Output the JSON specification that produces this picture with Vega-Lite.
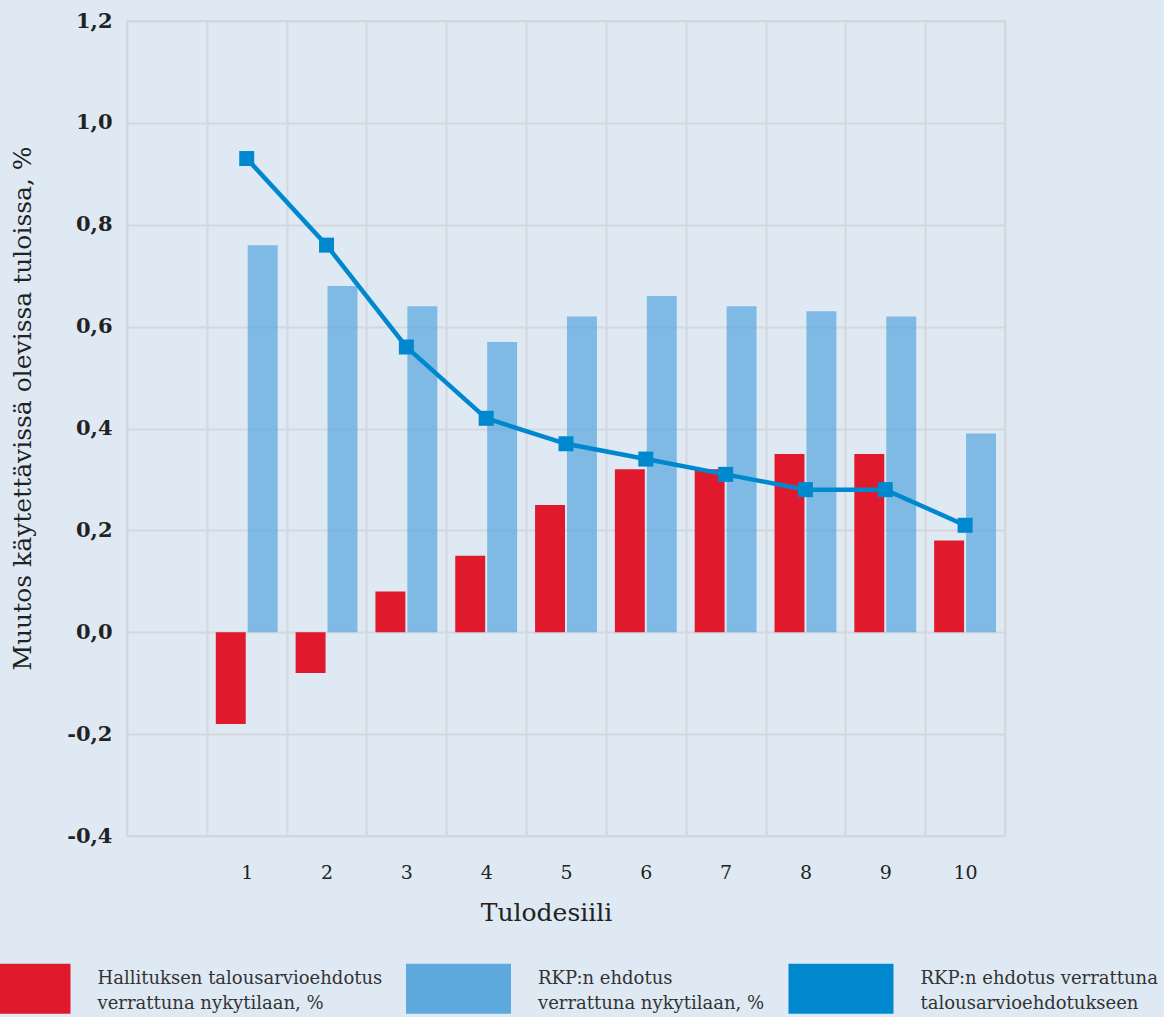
{
  "$schema": "https://vega.github.io/schema/vega-lite/v6.json",
  "width": 878,
  "height": 815,
  "autosize": {"type": "none"},
  "padding": {"left": 127, "top": 21, "right": 159, "bottom": 181},
  "background": "#dfe9f3",
  "config": {
    "view": {"stroke": "#d3d8dd", "strokeWidth": 2},
    "font": "DejaVu Serif"
  },
  "data": {
    "values": [
      {"d": 1, "s": "Hallituksen talousarvioehdotus verrattuna nykytilaan, %", "v": -0.18},
      {"d": 2, "s": "Hallituksen talousarvioehdotus verrattuna nykytilaan, %", "v": -0.08},
      {"d": 3, "s": "Hallituksen talousarvioehdotus verrattuna nykytilaan, %", "v": 0.08},
      {"d": 4, "s": "Hallituksen talousarvioehdotus verrattuna nykytilaan, %", "v": 0.15},
      {"d": 5, "s": "Hallituksen talousarvioehdotus verrattuna nykytilaan, %", "v": 0.25},
      {"d": 6, "s": "Hallituksen talousarvioehdotus verrattuna nykytilaan, %", "v": 0.32},
      {"d": 7, "s": "Hallituksen talousarvioehdotus verrattuna nykytilaan, %", "v": 0.32},
      {"d": 8, "s": "Hallituksen talousarvioehdotus verrattuna nykytilaan, %", "v": 0.35},
      {"d": 9, "s": "Hallituksen talousarvioehdotus verrattuna nykytilaan, %", "v": 0.35},
      {"d": 10, "s": "Hallituksen talousarvioehdotus verrattuna nykytilaan, %", "v": 0.18},
      {"d": 1, "s": "RKP:n ehdotus verrattuna nykytilaan, %", "v": 0.76},
      {"d": 2, "s": "RKP:n ehdotus verrattuna nykytilaan, %", "v": 0.68},
      {"d": 3, "s": "RKP:n ehdotus verrattuna nykytilaan, %", "v": 0.64},
      {"d": 4, "s": "RKP:n ehdotus verrattuna nykytilaan, %", "v": 0.57},
      {"d": 5, "s": "RKP:n ehdotus verrattuna nykytilaan, %", "v": 0.62},
      {"d": 6, "s": "RKP:n ehdotus verrattuna nykytilaan, %", "v": 0.66},
      {"d": 7, "s": "RKP:n ehdotus verrattuna nykytilaan, %", "v": 0.64},
      {"d": 8, "s": "RKP:n ehdotus verrattuna nykytilaan, %", "v": 0.63},
      {"d": 9, "s": "RKP:n ehdotus verrattuna nykytilaan, %", "v": 0.62},
      {"d": 10, "s": "RKP:n ehdotus verrattuna nykytilaan, %", "v": 0.39},
      {"d": 1, "s": "RKP:n ehdotus verrattuna talousarvioehdotukseen", "v": 0.93},
      {"d": 2, "s": "RKP:n ehdotus verrattuna talousarvioehdotukseen", "v": 0.76},
      {"d": 3, "s": "RKP:n ehdotus verrattuna talousarvioehdotukseen", "v": 0.56},
      {"d": 4, "s": "RKP:n ehdotus verrattuna talousarvioehdotukseen", "v": 0.42},
      {"d": 5, "s": "RKP:n ehdotus verrattuna talousarvioehdotukseen", "v": 0.37},
      {"d": 6, "s": "RKP:n ehdotus verrattuna talousarvioehdotukseen", "v": 0.34},
      {"d": 7, "s": "RKP:n ehdotus verrattuna talousarvioehdotukseen", "v": 0.31},
      {"d": 8, "s": "RKP:n ehdotus verrattuna talousarvioehdotukseen", "v": 0.28},
      {"d": 9, "s": "RKP:n ehdotus verrattuna talousarvioehdotukseen", "v": 0.28},
      {"d": 10, "s": "RKP:n ehdotus verrattuna talousarvioehdotukseen", "v": 0.21}
    ]
  },
  "encoding": {
    "x": {
      "field": "d",
      "type": "ordinal",
      "scale": {"domain": [0, 1, 2, 3, 4, 5, 6, 7, 8, 9, 10], "paddingInner": 0, "paddingOuter": 0},
      "axis": {
        "labelExpr": "datum.value == 0 ? '' : datum.label",
        "tickBand": "extent",
        "grid": true,
        "gridColor": "#d3d8dd",
        "gridWidth": 2,
        "ticks": false,
        "domain": false,
        "labelAngle": 0,
        "labelFont": "DejaVu Serif",
        "labelFontSize": 19,
        "labelColor": "#222222",
        "labelPadding": 27,
        "title": "Tulodesiili",
        "titleFont": "DejaVu Serif",
        "titleFontSize": 25,
        "titleFontWeight": "normal",
        "titleColor": "#222222",
        "titleX": 419,
        "titleY": 84,
        "titleBaseline": "alphabetic"
      }
    },
    "y": {
      "field": "v",
      "type": "quantitative",
      "scale": {"domain": [-0.4, 1.2], "nice": false, "zero": false},
      "axis": {
        "values": [-0.4, -0.2, 0, 0.2, 0.4, 0.6, 0.8, 1, 1.2],
        "labelExpr": "replace(replace(format(datum.value, '.1f'), '.', ','), '\u2212', '-')",
        "grid": true,
        "gridColor": "#d3d8dd",
        "gridWidth": 2,
        "ticks": false,
        "domain": false,
        "labelFont": "DejaVu Serif",
        "labelFontSize": 21,
        "labelFontWeight": "bold",
        "labelColor": "#222222",
        "labelPadding": 15,
        "title": "Muutos käytettävissä olevissa tuloissa, %",
        "titleFont": "DejaVu Serif",
        "titleFontSize": 25,
        "titleFontWeight": "normal",
        "titleColor": "#222222",
        "titleX": -105,
        "titleY": 387,
        "titleBaseline": "middle"
      }
    }
  },
  "layer": [
    {
      "transform": [{"filter": "datum.s != 'RKP:n ehdotus verrattuna talousarvioehdotukseen'"}],
      "mark": {"type": "bar"},
      "encoding": {
        "xOffset": {
          "field": "s",
          "type": "nominal",
          "scale": {
            "domain": ["Hallituksen talousarvioehdotus verrattuna nykytilaan, %", "RKP:n ehdotus verrattuna nykytilaan, %"],
            "paddingInner": 0.0625,
            "paddingOuter": 0.28125
          }
        },
        "fillOpacity": {
          "condition": {"test": "datum.s == 'RKP:n ehdotus verrattuna nykytilaan, %'", "value": 0.75},
          "value": 1
        },
        "color": {
          "field": "s",
          "type": "nominal",
          "scale": {
            "domain": ["Hallituksen talousarvioehdotus verrattuna nykytilaan, %", "RKP:n ehdotus verrattuna nykytilaan, %", "RKP:n ehdotus verrattuna talousarvioehdotukseen"],
            "range": ["#e01a2c", "#5eaadf", "#0088cf"]
          },
          "legend": {
            "orient": "none",
            "legendX": -161.5,
            "legendY": 915,
            "direction": "horizontal",
            "columns": 3,
            "title": null,
            "padding": 0,
            "symbolType": "M-1,-0.476H1V0.476H-1Z",
            "symbolSize": 11025,
            "symbolStrokeWidth": 0,
            "symbolOpacity": 1,
            "labelFont": "DejaVu Serif",
            "labelFontSize": 18,
            "labelColor": "#333333",
            "labelOffset": 27,
            "labelLimit": 500,
            "columnPadding": 23.5,
            "labelExpr": "datum.label == 'Hallituksen talousarvioehdotus verrattuna nykytilaan, %' ? ['Hallituksen talousarvioehdotus', 'verrattuna nykytilaan, %'] : datum.label == 'RKP:n ehdotus verrattuna nykytilaan, %' ? ['RKP:n ehdotus', 'verrattuna nykytilaan, %'] : ['RKP:n ehdotus verrattuna', 'talousarvioehdotukseen']",
            "encode": {"labels": {"update": {"lineHeight": {"value": 25}, "dy": {"value": -10}}}}
          }
        }
      }
    },
    {
      "transform": [{"filter": "datum.s == 'RKP:n ehdotus verrattuna talousarvioehdotukseen'"}],
      "mark": {"type": "line", "color": "#0088cf", "strokeWidth": 4.5},
      "encoding": {}
    },
    {
      "transform": [{"filter": "datum.s == 'RKP:n ehdotus verrattuna talousarvioehdotukseen'"}],
      "mark": {"type": "point", "shape": "square", "filled": true, "size": 225, "opacity": 1},
      "encoding": {
        "color": {
          "field": "s",
          "type": "nominal",
          "legend": {
            "orient": "none",
            "legendX": -161.5,
            "legendY": 915,
            "direction": "horizontal",
            "columns": 3,
            "title": null,
            "padding": 0,
            "symbolType": "M-1,-0.476H1V0.476H-1Z",
            "symbolSize": 11025,
            "symbolStrokeWidth": 0,
            "symbolOpacity": 1,
            "labelFont": "DejaVu Serif",
            "labelFontSize": 18,
            "labelColor": "#333333",
            "labelOffset": 27,
            "labelLimit": 500,
            "columnPadding": 23.5,
            "labelExpr": "datum.label == 'Hallituksen talousarvioehdotus verrattuna nykytilaan, %' ? ['Hallituksen talousarvioehdotus', 'verrattuna nykytilaan, %'] : datum.label == 'RKP:n ehdotus verrattuna nykytilaan, %' ? ['RKP:n ehdotus', 'verrattuna nykytilaan, %'] : ['RKP:n ehdotus verrattuna', 'talousarvioehdotukseen']",
            "encode": {"labels": {"update": {"lineHeight": {"value": 25}, "dy": {"value": -10}}}}
          }
        }
      }
    }
  ]
}
